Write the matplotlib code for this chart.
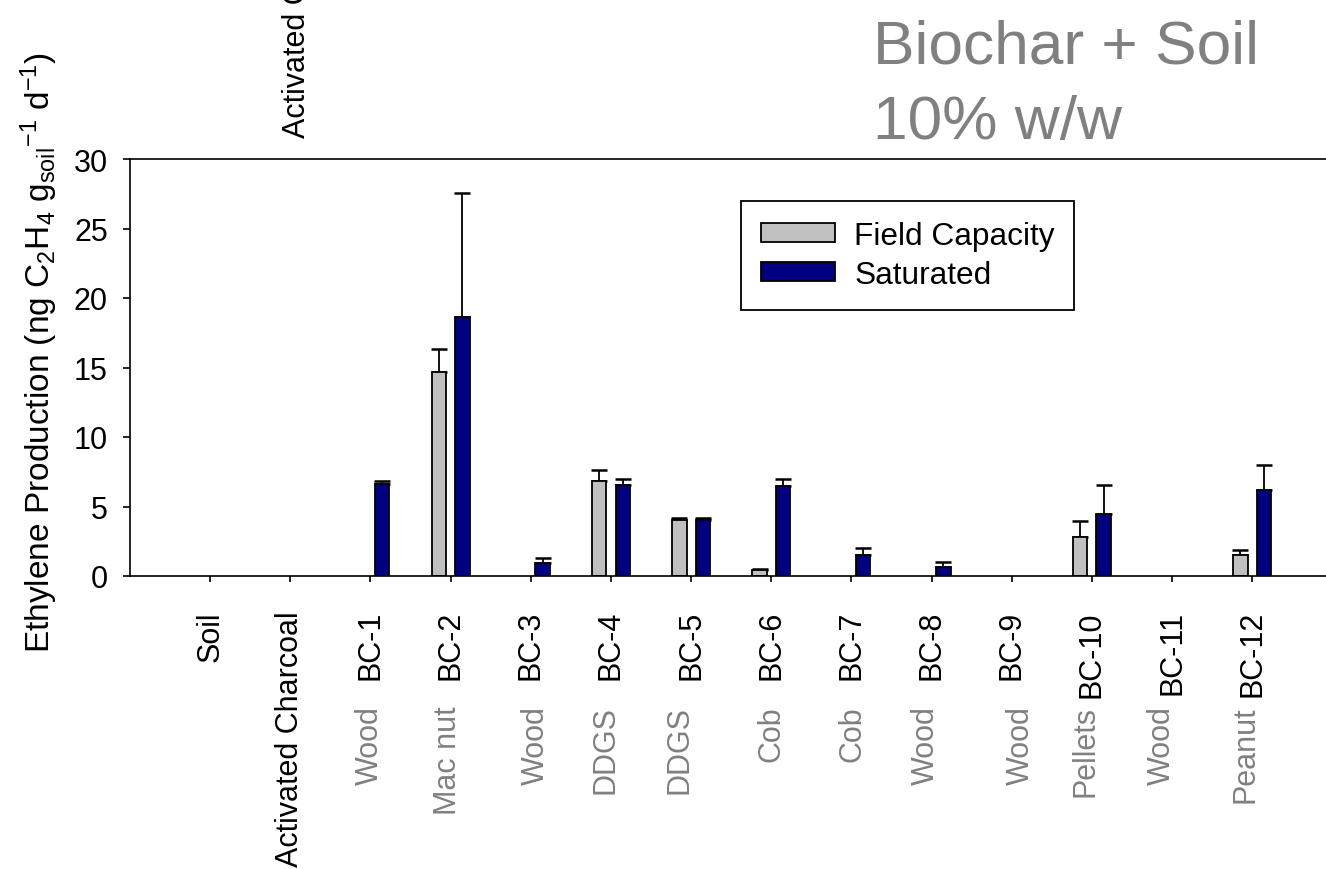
import numpy as np
import matplotlib
matplotlib.use("Agg")
import matplotlib.pyplot as plt

plt.rcParams['font.family'] = ['Liberation Sans', 'DejaVu Sans']
plt.rcParams['mathtext.fontset'] = 'custom'
plt.rcParams['mathtext.rm'] = 'Liberation Sans'
plt.rcParams['mathtext.it'] = 'Liberation Sans:italic'

# data
codes = ["Soil", "Activated Charcoal", "BC-1", "BC-2", "BC-3", "BC-4", "BC-5",
         "BC-6", "BC-7", "BC-8", "BC-9", "BC-10", "BC-11", "BC-12"]
feedstock = ["", "", "Wood", "Mac nut", "Wood", "DDGS", "DDGS",
             "Cob", "Cob", "Wood", "Wood", "Pellets", "Wood", "Peanut"]
field_capacity = [0, 0, 0, 14.65, 0, 6.86, 4.0, 0.43, 0, 0, 0, 2.78, 0, 1.51]
field_capacity_err = [0, 0, 0, 1.7, 0, 0.8, 0.17, 0.07, 0, 0, 0, 1.2, 0, 0.38]
saturated = [0, 0, 6.6, 18.65, 0.91, 6.57, 4.0, 6.45, 1.51, 0.62, 0, 4.48, 0, 6.19]
saturated_err = [0, 0, 0.2, 8.9, 0.38, 0.41, 0.17, 0.53, 0.48, 0.36, 0, 2.1, 0, 1.8]

# small horizontal nudges (pixels) of the grey feedstock names
feed_nudge = [0, 0, -1, -3, 5, -5, -12, 0, 1, -6, 9, -6, -10, -7]

FS = 22
W, H = 1326, 870
fig = plt.figure(figsize=(W / 100, H / 100), dpi=100)
ax = fig.add_axes([130 / W, 1 - 577 / H, 1 - 130 / W, (577 - 160) / H])

x = np.arange(len(codes))
fc = np.array(field_capacity, dtype=float)
sat = np.array(saturated, dtype=float)
fc_plot = np.where(fc > 0, fc, np.nan)
sat_plot = np.where(sat > 0, sat, np.nan)
fc_e = np.array(field_capacity_err)
sat_e = np.array(saturated_err)

bw = 0.18
off = 0.147
b1 = ax.bar(x - off, fc_plot, bw, color="#C0C0C0", edgecolor="black", linewidth=1.3,
            label="Field Capacity", zorder=2)
b2 = ax.bar(x + off, sat_plot, bw, color="#000080", edgecolor="black", linewidth=1.3,
            label="Saturated", zorder=2)

m1 = fc > 0
ax.errorbar(x[m1] - off, fc[m1], yerr=[np.zeros(m1.sum()), fc_e[m1]], fmt="none",
            ecolor="black", elinewidth=1.3, capsize=5.8, capthick=1.8, zorder=1)
m2 = sat > 0
ax.errorbar(x[m2] + off, sat[m2], yerr=[np.zeros(m2.sum()), sat_e[m2]], fmt="none",
            ecolor="black", elinewidth=1.3, capsize=5.8, capthick=1.8, zorder=1)

ax.set_xlim(-1, 13.92)
ax.set_ylim(0, 30)
ax.set_yticks(np.arange(0, 31, 5))
ax.set_xticks(x)
ax.set_xticklabels(codes, rotation=90, fontsize=FS)
ax.tick_params(axis="x", direction="out", length=4.5, width=1.2, pad=20)
ax.tick_params(axis="y", direction="out", length=5, width=1.2, pad=11, labelsize=FS)
for s in ["left", "top", "bottom"]:
    ax.spines[s].set_linewidth(1.2)
ax.spines["right"].set_visible(False)

# grey feedstock names under the codes
for i, name in enumerate(feedstock):
    if name:
        ax.annotate(name, xy=(i, 0), xycoords=("data", "axes fraction"),
                    xytext=(feed_nudge[i] * 0.72, -129 * 0.72), textcoords="offset points",
                    rotation=90, ha="center", va="top", fontsize=FS, color="#808080")

ax.legend(handles=[b1, b2], loc="upper left", bbox_to_anchor=(741 / W, 1 - 202 / H),
          bbox_transform=fig.transFigure, borderaxespad=0, fontsize=22.8,
          frameon=True, fancybox=False, edgecolor="black", framealpha=1,
          borderpad=0.62, labelspacing=0.3, handlelength=2.35, handleheight=0.55,
          handletextpad=0.6)
ax.get_legend().get_frame().set_linewidth(1.3)

fig.text(50 / W, 1 - 353 / H,
         r"Ethylene Production (ng C$_2$H$_4$ g$_{\mathrm{soil}}$$^{-1}$ d$^{-1}$)",
         rotation=90, rotation_mode="anchor", ha="center", va="baseline", fontsize=24)

fig.text(873 / W, 1 - 63 / H, "Biochar + Soil", fontsize=44.8, color="#808080",
         ha="left", va="baseline")
fig.text(873 / W, 1 - 139 / H, "10% w/w", fontsize=44.8, color="#808080",
         ha="left", va="baseline")

# stray label clipped at the top edge
fig.text(305 / W, 1 - 138 / H, "Activated Charcoal", rotation=90, rotation_mode="anchor",
         ha="left", va="baseline", fontsize=FS)

fig.savefig("out.png", dpi=100)
